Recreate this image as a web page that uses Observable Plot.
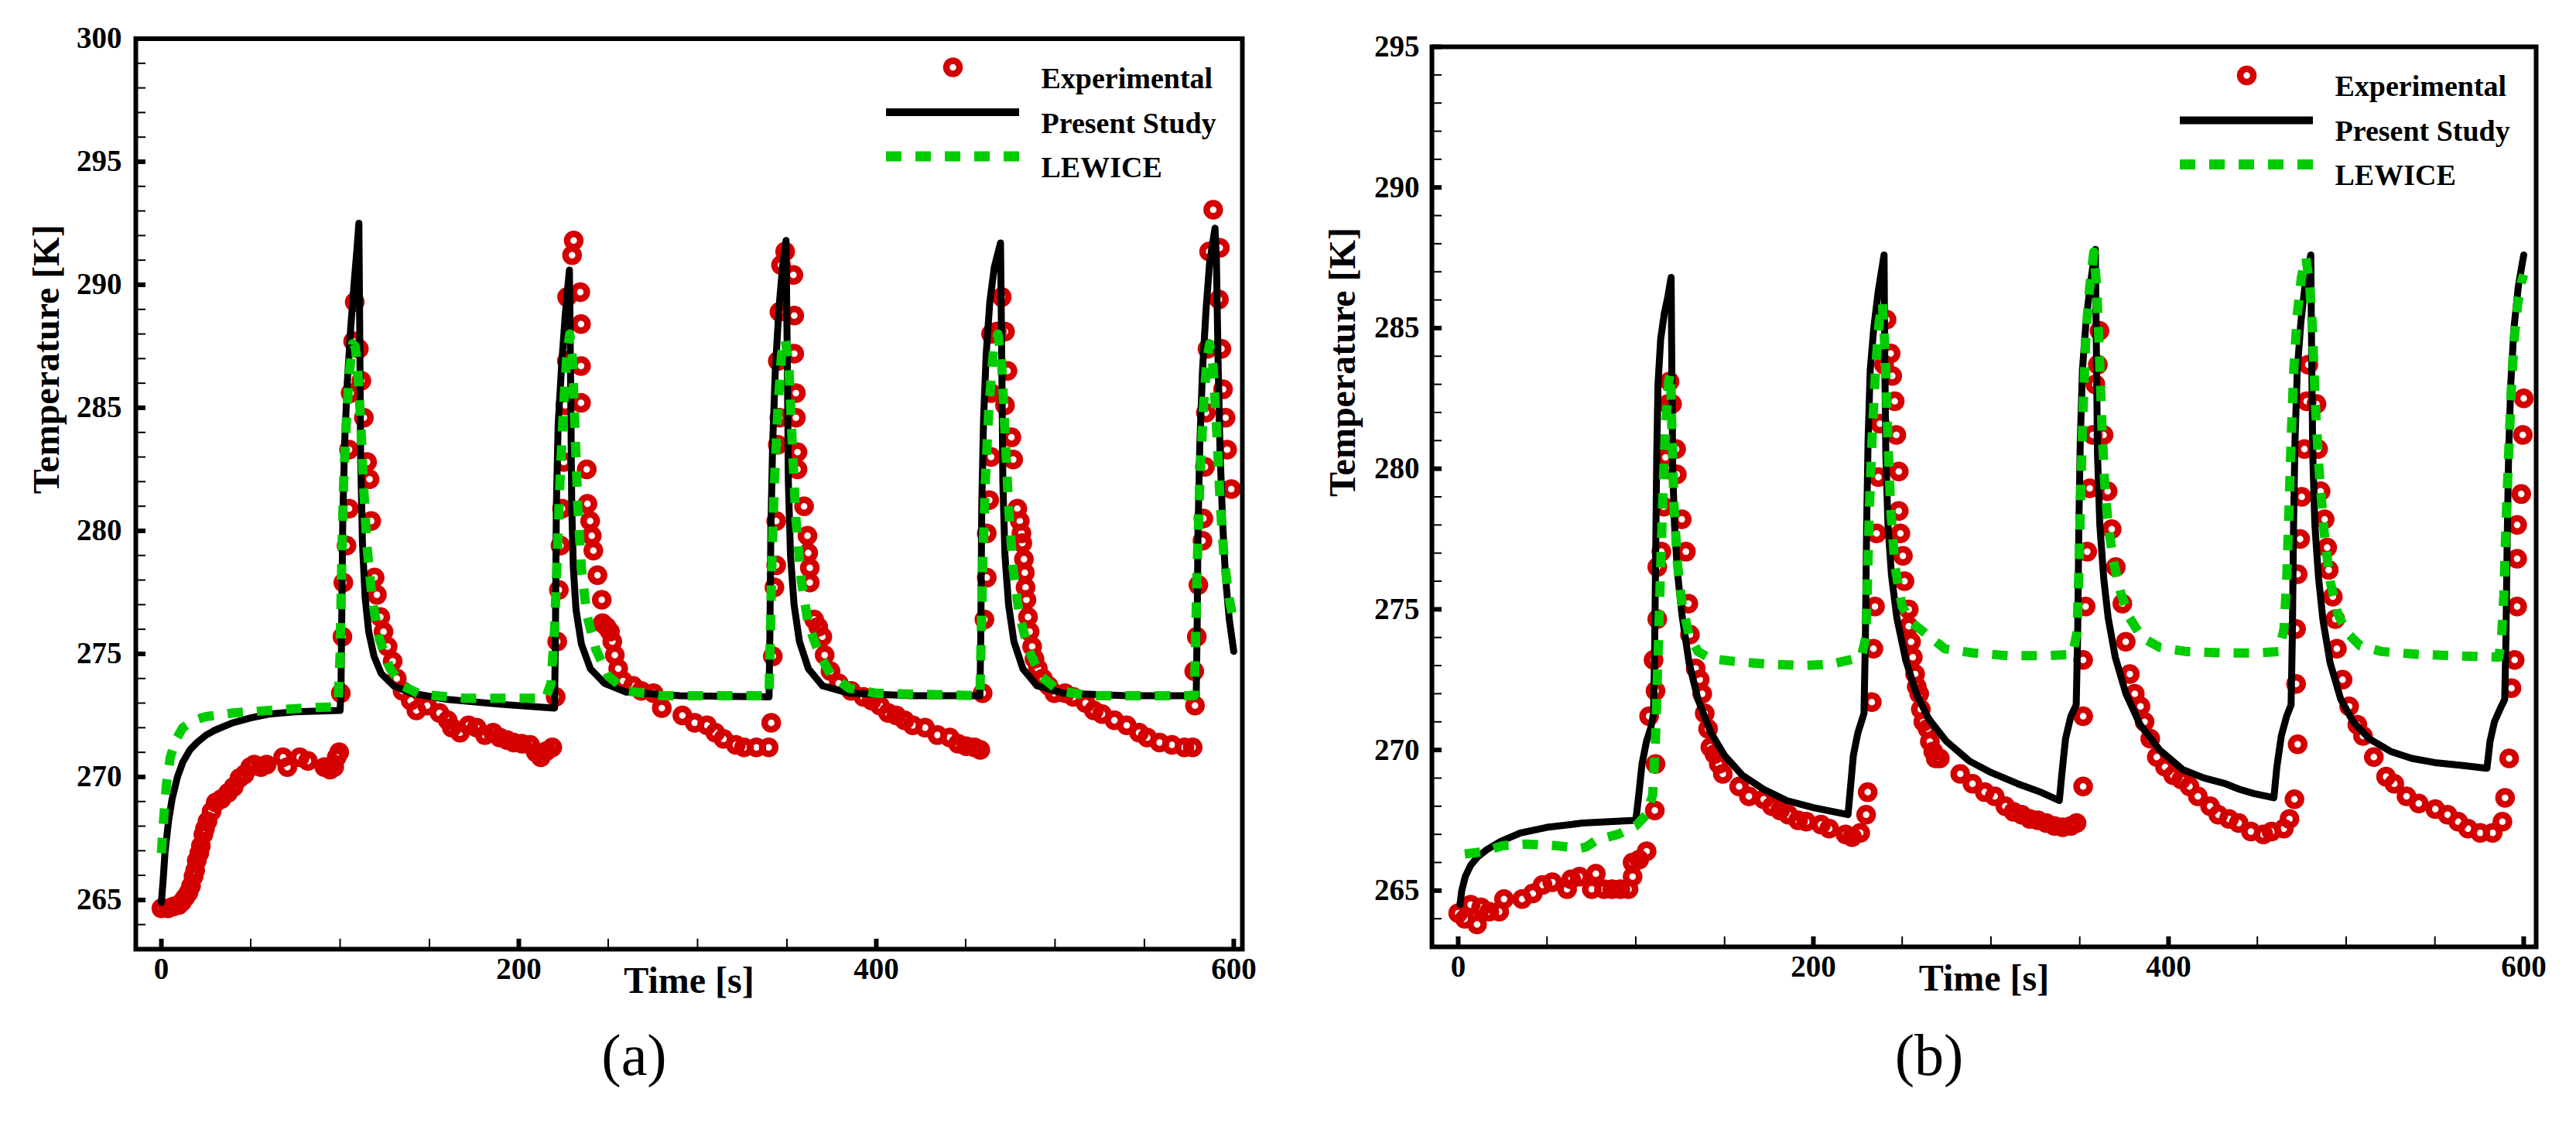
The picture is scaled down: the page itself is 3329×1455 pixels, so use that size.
<!DOCTYPE html>
<html>
<head>
<meta charset="utf-8">
<script src="https://cdn.jsdelivr.net/npm/d3@7"></script>
<script src="https://cdn.jsdelivr.net/npm/@observablehq/plot@0.6"></script>
<style>
  html, body { margin: 0; padding: 0; background: #fff; }
  #fig { position: relative; width: 3329px; height: 1455px; overflow: hidden; }
  #fig > div { position: absolute; top: 0; }
</style>
</head>
<body>
<div id="fig"><div id="pa" style="left:0px"></div><div id="pb" style="left:1665px"></div></div>
<script>
// ---- data: [time s, temperature K] ----

const expA = [
  [0,264.66],[3.7,264.66],[6.9,264.74],[9.7,264.79],[11.5,264.92],[13.3,265.1],[15.2,265.3],[16.6,265.57],[18,265.96],[18.9,266.2],
  [19.8,266.6],[21.2,266.9],[22.1,267.2],[23.5,267.66],[24.4,267.9],[25.8,268.2],[28.1,268.6],[30.4,268.96],[33.6,269.1],[37.3,269.35],
  [40.5,269.6],[43.7,269.95],[46.5,270.1],[49.7,270.4],[52,270.5],[55.7,270.4],[58.9,270.5],[68.1,270.8],[70.5,270.4],[77.4,270.8],
  [82,270.65],[91.2,270.4],[94.4,270.3],[96.7,270.4],[98.1,270.8],[99.5,271.0],
  [100.4,273.4],[101.3,275.7],[101.8,277.9],[103.6,279.4],[105,280.9],[105,283.3],[105.9,285.6],[107.3,287.7],[108.2,289.3],[110.5,287.4],
  [111.9,286.1],[113.3,284.6],[115.1,282.8],[116.5,282.1],[117.4,280.4],[119.3,278.1],[120.6,277.4],[122.5,276.5],[124.3,275.9],[126.6,275.3],
  [129.4,274.7],[131.7,274.0],[134.9,273.5],[139.5,273.1],[142.7,272.7],[148.7,272.9],[155.6,272.6],[160.2,272.3],[162.5,272.0],[167.1,271.8],
  [171.8,272.1],[176.4,272.0],[181,271.7],[185.6,271.8],[189.3,271.6],[193.4,271.5],[197.1,271.4],[201.7,271.35],[206.3,271.3],[209.5,271.0],
  [212.3,270.8],[215.5,271.05],[218.7,271.2],
  [220.6,273.25],[221.5,275.5],[222.4,277.6],[223.3,279.4],[224.2,280.9],[225.2,282.8],[226,285.1],[226.9,286.9],[227,289.5],[229.8,291.2],
  [230.7,291.8],[234.4,289.7],[234.8,288.4],[234.8,286.7],[234.8,285.2],[238,282.5],[238.4,281.1],[239.9,280.4],[240.8,279.8],[241.7,279.2],
  [244,278.2],[246.4,277.2],[246.8,276.25],[249.1,276.1],[251,275.9],[252.3,275.5],[253.7,274.95],[255.6,274.4],[258.3,273.9],[263.9,273.7],
  [268.5,273.5],[275.4,273.4],[280,272.8],[291.5,272.5],[298.4,272.2],[305.3,272.1],[309.9,271.8],[314.5,271.55],[321.4,271.3],[326,271.2],
  [332.9,271.2],[339.8,271.2],
  [341.2,272.2],[342.1,274.9],[343,277.7],[344,278.6],[344,280.4],[344.9,283.5],[345.8,284.6],[344.9,286.9],[345.8,288.9],[346.7,290.8],
  [349,291.35],[353.6,290.4],[354.1,288.75],[354.1,287.2],[355,285.6],[355,284.6],[355.9,283.2],[355.9,282.5],[359.6,281.0],[361.5,279.8],
  [361.9,279.1],[362.8,278.5],[362.8,277.9],[365.2,276.4],[367.5,276.1],[369.8,275.7],[371.1,274.95],[374.4,274.3],[379,273.8],[385.9,273.5],
  [392.8,273.25],[397.4,273.1],[402,272.9],[406.6,272.6],[411.2,272.5],[415.8,272.3],[420.4,272.1],[427.3,272.0],[434.2,271.7],[441.1,271.6],
  [445.7,271.35],[450.3,271.25],[454.9,271.2],[458.2,271.1],
  [459.5,273.4],[460.5,276.4],[461.8,278.1],[461.8,279.9],[463.2,281.25],[464.2,283.0],[464.2,285.6],[464.2,288.0],[467.4,288.1],[470.2,289.5],
  [472,288.1],[473.4,286.5],[472,285.1],[475.6,283.8],[476.6,282.9],[478.9,280.9],[480.3,280.4],[481.2,279.9],[481.7,279.5],[482.6,278.85],
  [483.1,278.3],[483.5,277.7],[484,277.2],[484.9,276.5],[485.8,275.9],[487.2,275.3],[488.5,274.8],[490.4,274.4],[493.2,274.0],[496.4,273.7],
  [499.6,273.4],[505.6,273.4],[510.2,273.25],[517.1,273.0],[521.7,272.7],[526.3,272.55],[533.2,272.3],[540.1,272.1],[547,271.8],[551.6,271.6],
  [558.5,271.4],[565.4,271.3],[572.4,271.2],[577,271.2],
  [578.3,272.9],[577.9,274.3],[579.3,275.7],[580.2,277.8],[582.5,279.6],[583,280.5],[583.9,282.6],[584.4,284.8],[585.3,287.4],[586.2,291.35],
  [588.5,293.05],[592.2,291.5],[591.7,289.4],[593.1,287.4],[594,285.75],[595.4,284.6],[596.3,283.3],[598.6,281.7]
];

const presentA = [
  [0,264.9],[1,265.8],[2,266.9],[4,268.2],[6,269.1],[9,270],[12,270.6],[16,271.1],[20,271.4],[25,271.7],[30,271.9],[40,272.2],
  [50,272.4],[60,272.55],[75,272.65],[100,272.7],
  [100.5,273.5],[101,277],[101.5,280.5],[102.5,283.5],[104,286],[106,288.3],[108,290.2],[109.5,291.5],[110.5,292.5],[111,288],
  [111.5,283],[112.5,279.5],[114,277.3],[116,275.9],[119,274.9],[123,274.2],[130,273.7],[140,273.4],[160,273.15],[190,272.95],[220,272.8],
  [220.5,276],[221,281],[222,284.3],[224,286.8],[226,288.8],[228.3,290.6],[229,286],[229.6,281],[230.5,278.5],[232,276.8],[235,275.4],
  [240,274.4],[248,273.8],[260,273.45],[290,273.3],[340,273.25],
  [340.5,276],[341,280],[342,283.5],[343.5,286.5],[345.5,289],[347.5,290.7],[349.5,291.8],[350.2,287],[350.8,282],[352,279],[354,277],
  [357,275.5],[362,274.4],[370,273.7],[385,273.4],[420,273.3],[458,273.3],
  [458.5,276],[459,281],[460,284.5],[461.5,287.2],[463.5,289.3],[466,290.7],[469.5,291.7],[470.2,287],[470.8,282],[472,279],[474,277],
  [477,275.5],[482,274.4],[490,273.7],[505,273.4],[540,273.3],[579,273.3],
  [579.5,276],[580,280],[581,283.5],[582.5,286.5],[584.5,289],[586.5,290.9],[589.5,292.3],[590.3,291],[591.2,287],[592.3,283.3],
  [593.8,280.3],[595.4,278.1],[597.5,276.4],[600,275.1]
];

const lewiceA = [
  [0,266.9],[1,268],[2,269],[3,269.8],[5,270.8],[8,271.5],[12,272],[18,272.3],[25,272.45],[40,272.6],[60,272.7],[80,272.8],[97,272.85],[99,273.2],
  [100,275],[101,279],[102,282],[103.5,284.5],[105,286.3],[107,287.6],[108.5,287.5],[110,286.4],[111.5,284.5],[113,282],[115,279.4],
  [118,277.2],[122,275.6],[128,274.4],[135,273.7],[145,273.35],[170,273.2],[200,273.2],[215,273.2],
  [218,273.8],[220,276],[221.5,279],[223,282],[225,285],[227,287.3],[228.5,288],[230,287],[231.5,284],[233,281],[235,278.5],[238,276.6],
  [243,275.2],[250,274.1],[260,273.5],[280,273.3],[340,273.3],
  [340.5,275],[341.5,278.5],[343,282],[345,285],[347,287.2],[349,287.8],[351,286.8],[353,283.5],[355,280.5],[358,278],[362,276.2],
  [368,275],[375,274.1],[385,273.6],[400,273.4],[458,273.3],
  [458.5,275],[459.5,278.5],[461,282],[463,285],[465.5,287.3],[468,288],[470,287],[472,284],[474,281],[476.5,278.5],[480,276.6],
  [485,275.2],[492,274.1],[502,273.5],[520,273.3],[578,273.3],
  [578.5,275],[579.5,278.5],[581,282],[583,285],[585,287],[586.5,287.6],[588.5,286.6],[590.5,284],[592.5,281],[594.5,279],[597,277.4],[600,276.3]
];

const expB = [
  [0,264.2],[3.7,264],[7,264.5],[10.6,263.8],[12.9,264.4],[17.5,264.25],[23.1,264.25],[25.8,264.7],[36,264.7],[42,264.9],
  [47.5,265.2],[53,265.3],[61.3,265.05],[63.6,265.4],[68.3,265.5],[75.2,265.05],[77.5,265.6],[82.1,265.05],[86.7,265.05],[91.3,265.05],
  [95.9,265.05],[98.2,265.5],[98.2,266],[101.9,266.1],[106.1,266.4],[110.7,267.85],[111.1,269.5],[107.5,271.2],[111.1,272.1],[110,273.2],
  [112.1,274.65],[112.1,276.5],[114.4,277.05],[115.8,278.65],[116.7,280.4],[118.1,282.3],[119,283.1],[120.4,282.3],[122.7,280.7],[123.1,279.8],
  [125.9,278.2],[128.2,277.05],[129.6,275.2],[130.5,274.1],[133.7,272.9],[136,272.5],[137.4,272.0],[138.8,271.3],[140.7,270.75],[142,270.1],
  [144.3,269.85],[146.7,269.5],[149,269.15],[158.2,268.7],[163.7,268.35],[172,268.25],[176.6,268],[181.2,267.85],[185.9,267.7],[191.4,267.5],
  [196,267.45],[204.3,267.35],[208.9,267.2],[218.1,267],[221.8,266.9],[226.4,267.05],[229.7,267.7],[230.6,268.5],
  [232.9,271.7],[233.8,273.6],[234.7,275.1],[235.6,277.7],[236.6,279.7],[237.5,281.6],[239.8,283.7],[241.2,285.3],[243.5,284.1],[244.4,283.3],
  [245.8,282.4],[246.7,281.2],[248.1,279.9],[248.1,278.5],[249,277.7],[250.4,276.9],[251.3,276.0],[253.7,275.0],[253.7,274.4],[255,273.85],
  [256,273.3],[257.3,272.7],[258.2,272.25],[259.6,272.0],[260.5,271.45],[261.9,271],[264.3,270.75],[265.6,270.3],[267.5,269.95],[268.9,269.7],
  [271.2,269.7],[282.7,269.15],[289.6,268.8],[296.5,268.5],[302.1,268.35],[308.1,268.0],[312.7,267.8],[317.3,267.7],[321.9,267.55],[326.5,267.5],
  [331.1,267.4],[335.7,267.3],[340.4,267.25],[345,267.3],[348.2,267.4],[351.9,268.7],
  [351.9,271.2],[351.9,273.2],[353.3,275.1],[354.2,277.05],[355.6,279.3],[357.4,281.2],[358.8,283.0],[360.2,283.7],[361.1,284.9],[363.4,281.2],
  [365.7,279.2],[368,277.85],[370.3,276.5],[374,275.2],[375.9,273.85],[378.2,272.7],[381,272.0],[384.2,271.55],[386.5,271],[389.7,270.4],
  [393.4,269.75],[398,269.4],[402.6,269.1],[407.2,268.95],[411.8,268.7],[416.5,268.35],[423.4,268.0],[428,267.7],[434,267.55],[439.5,267.4],
  [446.4,267.1],[453.4,267],[458,267.1],[464.9,267.2],[468.1,267.55],[470.9,268.25],
  [472.7,270.2],[471.8,272.35],[471.8,274.3],[472.7,276.25],[474.1,277.5],[475,279],[476.5,280.7],[477.8,282.4],[478.7,283.7],[483.3,282.3],
  [484.2,280.7],[485.6,279.2],[487.9,278.2],[489.3,277.2],[490.2,276.4],[492.5,275.45],[493.9,274.65],[494.8,273.6],[498,272.5],[501.7,271.55],
  [506.3,270.9],[509.5,270.5],[515.6,269.75],[522.5,269.05],[527.1,268.8],[534,268.35],[540.9,268.1],[550.2,267.9],[557.1,267.7],[563.1,267.45],
  [568.6,267.2],[575.5,267.05],[582.5,267.05],[588,267.45],[589.5,268.3],[591.8,269.7],
  [593.1,272.2],[594.9,273.2],[596.3,275.1],[596.3,276.8],[596.3,278],[598.6,279.1],[599.5,281.2],[600,282.5]
];

const presentB = [
  [1,264.5],[2,265],[4,265.5],[7,265.9],[11,266.2],[16,266.45],[24,266.75],[35,267.05],[50,267.25],[70,267.4],[100,267.5],
  [101.5,268.3],[103.5,269.5],[106,270.3],[108.5,270.8],[110,271.3],[110.6,273.5],[111.2,277],[111.8,280.5],[112.5,283],[114,284.6],
  [116,285.5],[118,286.1],[119.9,286.8],[120.3,283.5],[120.8,280],[121.8,278],[123.5,276.3],[126,274.8],[130,273.1],[135,271.8],
  [142,270.65],[150,269.8],[160,269.1],[172,268.6],[185,268.2],[200,267.95],[219.5,267.7],
  [220.8,268.6],[222.5,269.8],[225,270.6],[228.5,271.3],[229.3,274],[230,278],[230.8,281],[232,283.5],[234,285],[236.5,286.3],
  [239.8,287.6],[240.2,284],[240.8,280.5],[242,278],[244,276.2],[247,274.7],[252,273.2],[258,272],[265,271.1],[275,270.3],[288,269.6],
  [300,269.2],[315,268.8],[328,268.5],[338.5,268.2],
  [340,269.2],[342,270.4],[345,271.2],[348,271.6],[348.8,274],[349.5,278],[350.3,281],[351.5,283.5],[353.5,285.2],[356,286.6],
  [358.8,287.8],[359.4,284],[360,280.5],[361.3,278],[363.5,276.1],[366,274.7],[370,273.3],[376,272],[384,270.9],[395,270],[408,269.3],
  [420,269],[432,268.8],[440,268.6],[448,268.45],[459.3,268.3],
  [461,269.4],[463.5,270.5],[466.5,271.2],[469,271.6],[469.7,274],[470.4,278],[471.2,281],[472.5,283.5],[474.5,285.2],[477,286.6],
  [480.1,287.6],[480.6,284],[481.2,280.5],[482.4,278],[484.5,276.1],[487,274.6],[491,273.1],[497,271.8],[504,271],[513,270.4],
  [525,269.95],[537,269.7],[550,269.55],[565,269.45],[579.3,269.35],
  [581,270.3],[583.5,271],[587,271.5],[589.3,271.8],[590,274],[590.7,277.5],[591.5,280.5],[592.7,283],[594.5,285],[597,286.5],[600,287.6]
];

const lewiceB = [
  [3.7,266.3],[10,266.35],[15,266.4],[25,266.6],[38,266.65],[55,266.6],[68,266.5],[72,266.55],[78,266.8],[90,267],[100,267.3],
  [106,267.7],[109.5,268.4],[111,270.2],[112.5,273.3],[114,276.5],[115.5,279.5],[117,281.7],[118.5,283.1],[119.5,283.4],[120.5,281],
  [121.5,278.7],[123.5,276.6],[126,275.2],[130,274.1],[135,273.5],[142,273.25],[155,273.15],[175,273.05],[195,273],[210,273.05],[227,273.3],
  [229.5,274],[230.5,276],[231.5,278.5],[233,281],[235,283.5],[237,285.2],[238.9,285.9],[240.5,284],[242,281],[243.5,278.6],[246,276.5],
  [250,275.1],[256,274.5],[264,274.1],[274,273.6],[290,273.45],[310,273.35],[330,273.35],[346,273.4],
  [348.5,274.2],[349.5,276.3],[350.5,279],[351.8,282],[353.5,284.8],[355.5,286.4],[357.9,287.7],[359.5,286.5],[361,284.2],[362.5,281.5],
  [364,279.5],[366,278],[369,276.7],[373,275.6],[378,274.7],[385,274],[395,273.65],[410,273.5],[430,273.45],[450,273.45],[462,273.5],
  [465,274.3],[466.5,276],[467.8,278.5],[469,281],[470.5,283.5],[472.5,285.5],[474.8,286.8],[477.4,287.5],[479.5,286.5],[481,285],
  [482.5,282.5],[484.5,280.2],[487.5,277.8],[491,276],[495,274.9],[500,274.2],[508,273.7],[520,273.5],[540,273.4],[560,273.35],[586,273.3],
  [587.5,274],[588.8,275.5],[590,278],[591.5,280.5],[593,282.8],[594.5,284.5],[596.5,285.8],[598.5,286.6],[600,286.9]
];

// ticks
const xMajor = [0, 200, 400, 600];
const xMinor = [50, 100, 150, 250, 300, 350, 450, 500, 550];
const yMajorA = [265, 270, 275, 280, 285, 290, 295, 300];
const yMajorB = [265, 270, 275, 280, 285, 290, 295];
const yMinorA = [264,266,267,268,269,271,272,273,274,276,277,278,279,281,282,283,284,286,287,288,289,291,292,293,294,296,297,298,299];
const yMinorB = [264,266,267,268,269,271,272,273,274,276,277,278,279,281,282,283,284,286,287,288,289,291,292,293,294];

const seriesNames = ["Experimental", "Present Study", "LEWICE"];

const RED = "#d40000", GREEN = "#00cc00";
const FONT = "'Liberation Serif', 'Times New Roman', Times, serif";

function panel({exp, present, lewice, xDomain, yDomain, yMajor, yMinor, width, mL, mR, mT, mB, yPad, caption}) {
  const H = 1455;
  const innerW = width - mL - mR;
  const innerH = H - mT - mB;
  const rowY = [37, 95, 152];            // legend rows, px below the frame top
  const legLineRight = 288, legLineLen = 172;
  const tickLen = 13;

  const legendText = (i) => Plot.text([seriesNames[i]], {
    frameAnchor: "top-right", dx: -260, dy: rowY[i], textAnchor: "start", fontSize: 38
  });

  return Plot.plot({
    width: width,
    height: H,
    marginLeft: mL,
    marginRight: mR,
    marginTop: mT,
    marginBottom: mB,
    x: {domain: xDomain},
    y: {domain: yDomain},
    style: {fontFamily: FONT, fontWeight: "bold", background: "white", color: "black"},
    marks: [
      // data
      Plot.dot(exp, {x: d => d[0], y: d => d[1], r: 8.5, stroke: RED, strokeWidth: 8.5, fill: "none"}),
      Plot.line(present, {x: d => d[0], y: d => d[1], stroke: "black", strokeWidth: 9, strokeLinejoin: "round"}),
      Plot.line(lewice, {x: d => d[0], y: d => d[1], stroke: GREEN, strokeWidth: 12, strokeDasharray: "20,18", strokeLinecap: "butt"}),

      // inward ticks
      Plot.tickX(xMinor, {x: d => d, insetTop: innerH - tickLen, strokeWidth: 2}),
      Plot.tickX(xMajor, {x: d => d, insetTop: innerH - tickLen, strokeWidth: 6}),
      Plot.tickY(yMinor, {y: d => d, insetRight: innerW - tickLen, strokeWidth: 2}),
      Plot.tickY(yMajor, {y: d => d, insetRight: innerW - tickLen, strokeWidth: 6}),

      // tick labels
      Plot.axisX({ticks: xMajor, tickSize: 0, tickPadding: 11, fontSize: 39, label: null}),
      Plot.axisY({ticks: yMajor, tickSize: 0, tickPadding: yPad, fontSize: 39, label: null}),

      Plot.frame({stroke: "black", strokeWidth: 6}),

      // axis titles
      Plot.text(["Time [s]"], {frameAnchor: "bottom", dy: 56, fontSize: 48}),
      Plot.text(["Temperature [K]"], {frameAnchor: "left", dx: -115, rotate: -90, fontSize: 48}),

      // legend
      Plot.dot([seriesNames[0]], {frameAnchor: "top-right", dx: -374, dy: rowY[0], r: 8.5, stroke: RED, strokeWidth: 8.5, fill: "none"}),
      Plot.ruleY([seriesNames[1]], {y: null, insetLeft: innerW - legLineRight - legLineLen, insetRight: legLineRight,
        dy: rowY[1] - innerH / 2, stroke: "black", strokeWidth: 10}),
      Plot.ruleY([seriesNames[2]], {y: null, insetLeft: innerW - legLineRight - legLineLen, insetRight: legLineRight,
        dy: rowY[2] - innerH / 2, stroke: GREEN, strokeWidth: 13, strokeDasharray: "20,18"}),
      legendText(0),
      legendText(1),
      legendText(2),

      // sub-figure caption
      Plot.text([caption], {frameAnchor: "bottom", dx: -71, dy: 162 + (1226 - (H - mB)), fontSize: 76, fontWeight: "normal"})
    ]
  });
}

const plotA = panel({
  exp: expA, present: presentA, lewice: lewiceA,
  xDomain: [-14.3, 604.8], yDomain: [263, 300], yMajor: yMajorA, yMinor: yMinorA,
  width: 1665, mL: 175, mR: 60, mT: 49.5, mB: 229, yPad: 18, caption: "(a)"
});
const plotB = panel({
  exp: expB, present: presentB, lewice: lewiceB,
  xDomain: [-14.8, 607], yDomain: [263, 295], yMajor: yMajorB, yMinor: yMinorB,
  width: 1664, mL: 185, mR: 52, mT: 60, mB: 232, yPad: 16, caption: "(b)"
});

document.getElementById("pa").append(plotA);
document.getElementById("pb").append(plotB);
</script>
</body>
</html>
